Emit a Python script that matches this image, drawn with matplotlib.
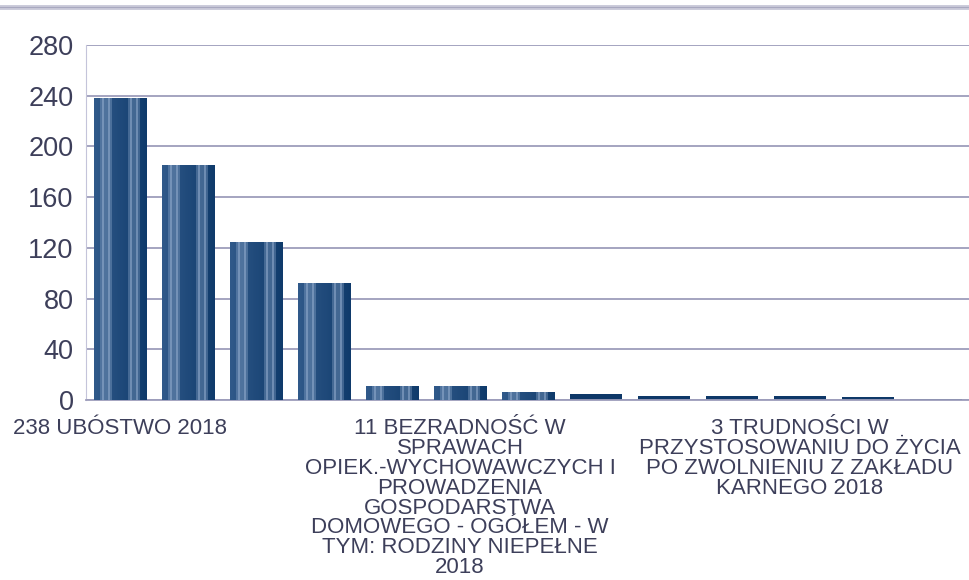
import matplotlib.pyplot as plt
import numpy as np
from matplotlib.lines import Line2D

# values (13 categories, only every 5th label shown)
values = [238, 185, 125, 92, 11, 11, 6, 5, 3, 3, 3, 2, 1]
labels = [
    "238 UBÓSTWO 2018", "", "", "", "",
    "11 BEZRADNOŚĆ W\nSPRAWACH\nOPIEK.-WYCHOWAWCZYCH I\nPROWADZENIA\n"
    "GOSPODARSTWA\nDOMOWEGO - OGÓŁEM - W\nTYM: RODZINY NIEPEŁNE\n2018",
    "", "", "", "",
    "3 TRUDNOŚCI W\nPRZYSTOSOWANIU DO ŻYCIA\nPO ZWOLNIENIU Z ZAKŁADU\nKARNEGO 2018",
    "", "",
]
yticks = [0, 40, 80, 120, 160, 200, 240, 280]

TEXT = "#3d3f5a"
GRID = "#9d9dbb"
LEFT = np.array([0.19, 0.35, 0.54])
RIGHT = np.array([0.06, 0.23, 0.42])
LIGHT = np.array([0.58, 0.68, 0.81])

plt.rcParams["font.family"] = ["Liberation Sans", "DejaVu Sans"]


def bar_texture(rows, cols=52):
    f = np.linspace(0, 1, cols)
    base = LEFT[None, :] * (1 - f[:, None]) + RIGHT[None, :] * f[:, None]
    tex = np.repeat(base[None, :, :], rows, axis=0)
    r = np.arange(rows)[:, None]
    c = np.arange(cols)[None, :]
    zig = (r // 2) % 2
    for centre in (0.15, 0.27, 0.68, 0.80):
        col = int(round(centre * (cols - 1)))
        line = (c == col + zig) | (c == col + 1 - zig)
        halo = (np.abs(c - col - 0.5) < 2.6) & ~line
        tex[line] = tex[line] * 0.3 + LIGHT * 0.7
        tex[halo] = tex[halo] * 0.65 + LIGHT * 0.35
    return tex


fig = plt.figure(figsize=(9.7, 5.8), dpi=100)
ax = fig.add_axes([86 / 970, 1 - 400 / 580, 1 - 86 / 970, 355 / 580])

x = np.arange(len(values))
bars = ax.bar(x, values, width=0.765, color="#0e3868", zorder=2)

ax.set_xlim(-0.5, len(values) - 0.5)
ax.set_ylim(0, 280)
ax.set_yticks(yticks)
ax.tick_params(axis="y", labelsize=19.5, colors=TEXT, length=0, pad=9)
ax.set_xticks(x)
ax.set_xticklabels(labels, fontsize=16, color=TEXT, linespacing=0.93)
ax.tick_params(axis="x", length=0, pad=13)

ax.yaxis.grid(True, color=GRID, linewidth=1.3, zorder=0)
ax.set_axisbelow(True)
for side in ("top", "right"):
    ax.spines[side].set_visible(False)
ax.spines["left"].set_color("#c4c4da")
ax.spines["bottom"].set_color(GRID)
ax.spines["bottom"].set_linewidth(1.3)

# striped fill for the taller bars, solid navy for the tiny ones
fig.canvas.draw()
for patch, v in zip(bars, values):
    if v < 6:
        continue
    y0 = ax.transData.transform((0, 0))[1]
    y1 = ax.transData.transform((0, v))[1]
    rows = max(int(round(y1 - y0)), 1)
    px0, py0 = patch.get_x(), patch.get_y()
    im = ax.imshow(bar_texture(rows), extent=(px0, px0 + patch.get_width(), py0, py0 + v),
                   aspect="auto", interpolation="nearest", zorder=3)
    im.set_clip_path(patch)
ax.set_xlim(-0.5, len(values) - 0.5)
ax.set_ylim(0, 280)

# thin double rule across the top of the slide
fig.add_artist(Line2D([0, 1], [1 - 6.5 / 580] * 2, color="#c9c9d9", linewidth=3.5))
fig.add_artist(Line2D([0, 1], [1 - 6.5 / 580] * 2, color="#a9a9c0", linewidth=0.8))

fig.savefig("out.png", dpi=100)
